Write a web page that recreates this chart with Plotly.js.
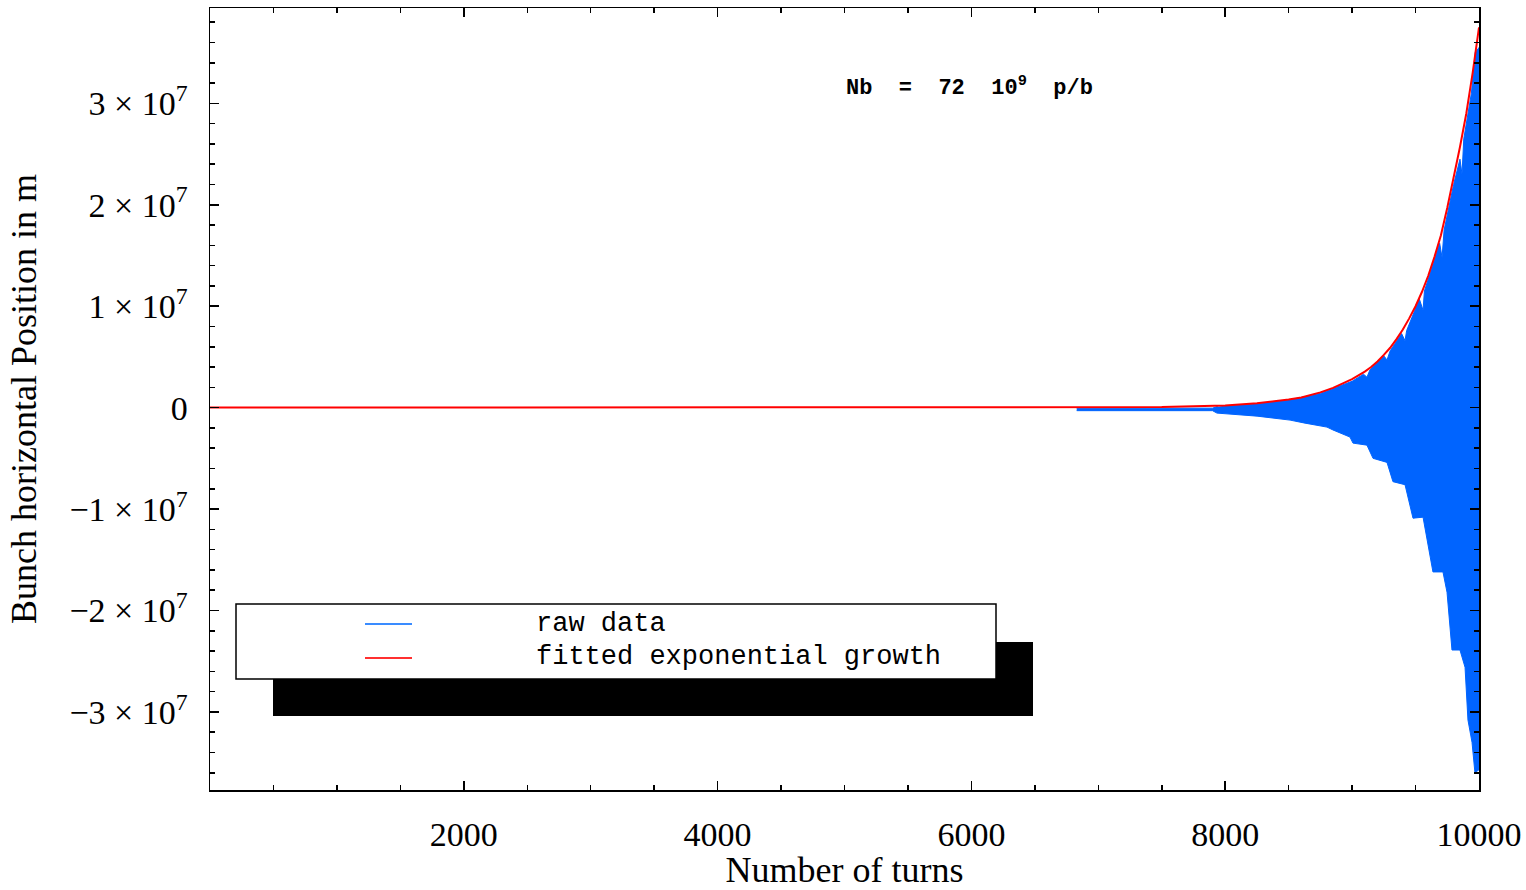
<!DOCTYPE html>
<html>
<head>
<meta charset="utf-8">
<script src="https://cdn.plot.ly/plotly-3.0.1.min.js"></script>
<style>
html,body{margin:0;padding:0;background:#fff;}
#chart{width:1526px;height:890px;}
</style>
</head>
<body>
<div id="chart"></div>
<script>
// ---- data ----
// raw data envelope (upper edge), turns and position in m
const rawUpperTurns = [6830, 7000, 7500, 7900, 7935, 7950, 8000, 8250, 8500, 8750, 9000, 9090, 9117, 9140, 9250, 9275, 9300, 9390, 9417, 9430, 9530, 9559, 9570, 9690, 9709, 9725, 9800, 9850, 9866, 9880, 9940, 9970, 10000];
const rawUpper      = [-50000, -50000, -50000, -50000, 100000, 50000, 150000, 380000, 750000, 1400000, 2600000, 3300000, 3000000, 3700000, 5100000, 4700000, 5600000, 7300000, 6600000, 7600000, 10700000, 9600000, 11500000, 16200000, 14800000, 17500000, 22000000, 24500000, 23000000, 26500000, 31000000, 35000000, 35500000];
// raw data envelope (lower edge)
const rawLowerTurns = [6830, 7000, 7500, 7900, 7935, 8251, 8511, 8629, 8802, 8849, 8983, 9007, 9117, 9165, 9275, 9322, 9417, 9480, 9559, 9598, 9637, 9716, 9748, 9787, 9850, 9890, 9913, 9945, 9968, 10000];
const rawLower      = [-300000, -300000, -300000, -300000, -540000, -840000, -1230000, -1530000, -1920000, -2200000, -2900000, -3500000, -3700000, -5000000, -5400000, -7300000, -7600000, -10900000, -10800000, -13300000, -16200000, -16200000, -18200000, -23900000, -23900000, -25600000, -30800000, -33000000, -36000000, -35700000];
// fitted exponential growth
const fitTurns = [0, 2000, 4000, 6000, 6500, 7000, 7500, 8000, 8250, 8500, 8600, 8750, 8850, 9000, 9050, 9100, 9150, 9200, 9250, 9300, 9350, 9400, 9450, 9500, 9550, 9600, 9650, 9700, 9750, 9800, 9850, 9900, 9950, 10000];
const fitValues = [0, 0, 0, 0, 5000, 15000, 55000, 210000, 420000, 800000, 1000000, 1500000, 1950000, 2800000, 3150000, 3550000, 4000000, 4550000, 5200000, 5900000, 6750000, 7700000, 8800000, 10000000, 11400000, 13000000, 14900000, 17000000, 19700000, 22600000, 25700000, 29000000, 33000000, 37500000];
// axis tick labels
const xTickVals = [2000, 4000, 6000, 8000, 10000];
const xTickText = ['2000', '4000', '6000', '8000', '10000'];
const yTickVals = [-3e7, -2e7, -1e7, 0, 1e7, 2e7, 3e7];
const yTickText = ['\u22123 \u00d7 10<sup>7</sup>', '\u22122 \u00d7 10<sup>7</sup>', '\u22121 \u00d7 10<sup>7</sup>', '0',
                   '1 \u00d7 10<sup>7</sup>', '2 \u00d7 10<sup>7</sup>', '3 \u00d7 10<sup>7</sup>'];
const legendLabels = ['raw data', 'fitted exponential growth'];
const noteText = 'Nb\u00a0\u00a0=\u00a0\u00a072\u00a0\u00a010<sup>9</sup>\u00a0\u00a0p/b';

// ---- layout helpers (pixel -> paper) ----
const W = 1526, H = 890;
const L = 210, R = 1479, T = 8, B = 790;
const px = x => (x - L) / (R - L);
const py = y => (B - y) / (B - T);

const blue = '#0064ff';
const red = '#ff0000';

// polygon of the raw-data envelope
const polyX = rawUpperTurns.concat(rawLowerTurns.slice().reverse());
const polyY = rawUpper.concat(rawLower.slice().reverse());

const traces = [
  {x: polyX, y: polyY, type: 'scatter', mode: 'lines', fill: 'toself',
   fillcolor: blue, line: {color: blue, width: 1}, hoverinfo: 'skip', showlegend: false},
  {x: fitTurns, y: fitValues, type: 'scatter', mode: 'lines',
   line: {color: red, width: 2}, showlegend: false}
];

const serif = 'Liberation Serif, Times New Roman, serif';
const mono = 'Liberation Mono, Courier New, monospace';

const shapes = [
  // legend shadow
  {type: 'rect', xref: 'paper', yref: 'paper', x0: px(273), x1: px(1033), y0: py(716), y1: py(642),
   fillcolor: '#000', line: {width: 0}},
  // legend box
  {type: 'rect', xref: 'paper', yref: 'paper', x0: px(236), x1: px(996), y0: py(679), y1: py(604),
   fillcolor: '#fff', line: {color: '#000', width: 1.5}},
  // legend line samples
  {type: 'line', xref: 'paper', yref: 'paper', x0: px(365), x1: px(412), y0: py(624), y1: py(624),
   line: {color: '#3a8cff', width: 2}},
  {type: 'line', xref: 'paper', yref: 'paper', x0: px(365), x1: px(412), y0: py(658), y1: py(658),
   line: {color: '#ff3030', width: 2}}
];

const annotations = [
  {xref: 'paper', yref: 'paper', x: px(534), y: py(624), xanchor: 'left', yanchor: 'middle',
   text: legendLabels[0], showarrow: false, font: {family: mono, size: 27, color: '#000'}},
  {xref: 'paper', yref: 'paper', x: px(534), y: py(657), xanchor: 'left', yanchor: 'middle',
   text: legendLabels[1], showarrow: false, font: {family: mono, size: 27, color: '#000'}},
  {xref: 'paper', yref: 'paper', x: px(969), y: py(86), xanchor: 'center', yanchor: 'middle',
   text: '<b>' + noteText + '</b>', showarrow: false, font: {family: mono, size: 22, color: '#000'}}
];

const layout = {
  width: W, height: H,
  margin: {l: L, r: W - R, t: T, b: H - B, pad: 0},
  paper_bgcolor: '#fff', plot_bgcolor: '#fff',
  showlegend: false,
  xaxis: {
    range: [0, 10000], showgrid: false, zeroline: false,
    showline: true, linecolor: '#000', linewidth: 1.5, mirror: 'allticks',
    ticks: 'inside', ticklen: 9, tickwidth: 1.5, tickcolor: '#000',
    tickmode: 'array', tickvals: xTickVals, ticktext: xTickText,
    ticklabelstandoff: 14,
    tickfont: {family: serif, size: 34, color: '#000'},
    minor: {dtick: 500, ticks: 'inside', ticklen: 5, tickwidth: 1.5, tickcolor: '#000', showgrid: false},
    title: {text: 'Number of turns', font: {family: serif, size: 36, color: '#000'}, standoff: 8},
    automargin: false
  },
  yaxis: {
    range: [-3.77e7, 3.94e7], showgrid: false, zeroline: false,
    showline: true, linecolor: '#000', linewidth: 1.5, mirror: 'allticks',
    ticks: 'inside', ticklen: 9, tickwidth: 1.5, tickcolor: '#000',
    tickmode: 'array', tickvals: yTickVals, ticktext: yTickText,
    ticklabelstandoff: 14,
    tickfont: {family: serif, size: 34, color: '#000'},
    minor: {dtick: 2e6, ticks: 'inside', ticklen: 5, tickwidth: 1.5, tickcolor: '#000', showgrid: false},
    title: {text: 'Bunch horizontal Position in m', font: {family: serif, size: 36, color: '#000'}, standoff: 22},
    automargin: false
  },
  shapes: shapes,
  annotations: annotations
};

Plotly.newPlot('chart', traces, layout, {displayModeBar: false, staticPlot: true});
</script>
</body>
</html>
